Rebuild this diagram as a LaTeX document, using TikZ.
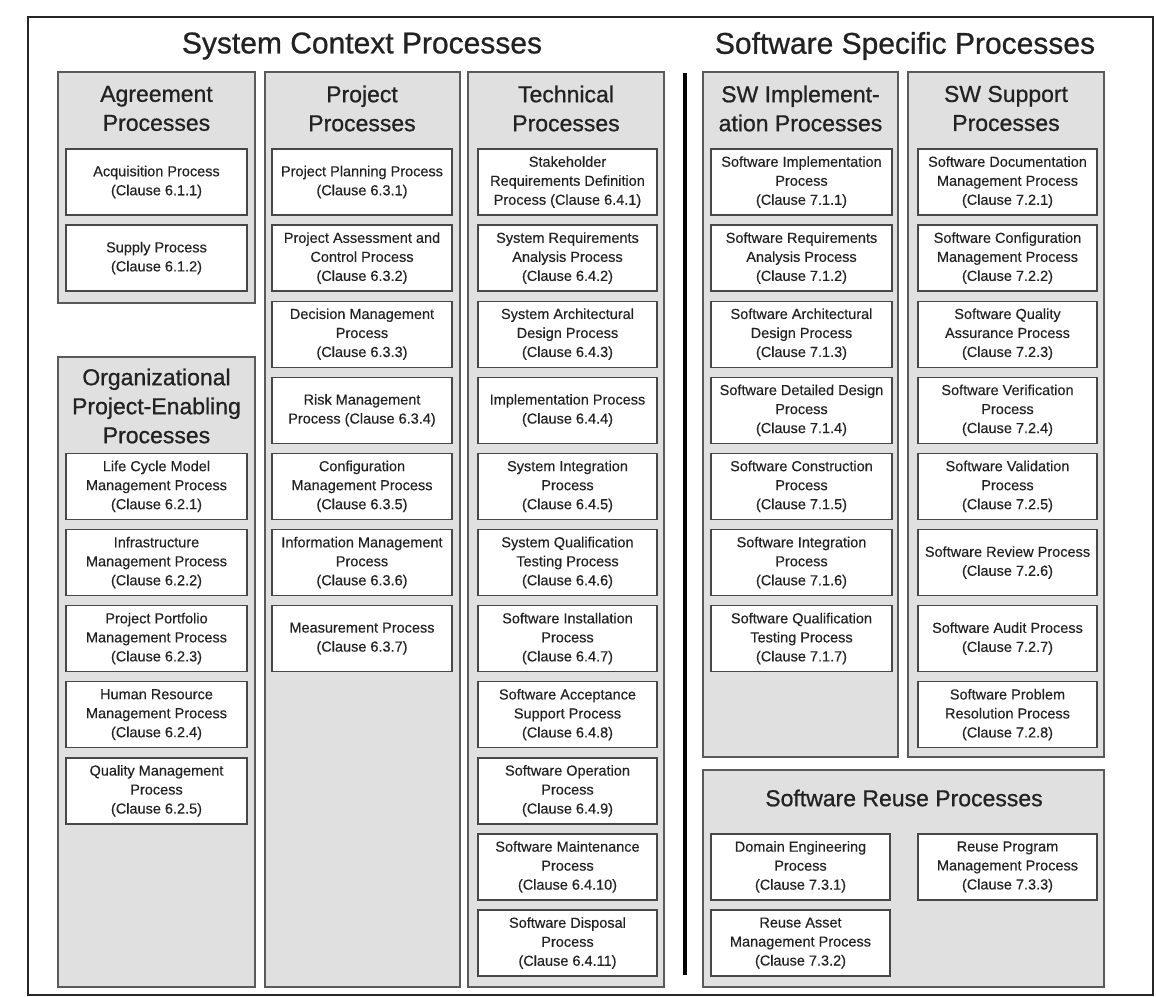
\documentclass[tikz,border=0pt]{standalone}
\usepackage{fontspec}
\setmainfont{Liberation Sans}
\newfontfamily\headfont{Liberation Sans}[FakeBold=0.8]
\newfontfamily\boxfont{Liberation Sans}[FakeBold=0.3]
\definecolor{panelfill}{HTML}{E0E0E0}
\definecolor{panelline}{HTML}{5A5A5A}
\definecolor{boxline}{HTML}{474747}
\definecolor{txt}{HTML}{222222}
\tikzset{
  panel/.style={draw=panelline, fill=panelfill, line width=1.5pt},
  procbox/.style={draw=boxline, fill=white, line width=1.4pt, align=center, inner sep=0pt,
    minimum height=66pt, font=\boxfont\fontsize{14.5}{19}\selectfont, text=txt},
  wA/.style={procbox, minimum width=181pt},
  wP/.style={procbox, minimum width=180pt},
  wT/.style={procbox, minimum width=179pt},
  headtxt/.style={align=center, inner sep=0pt, font=\headfont\fontsize{23}{29}\selectfont, text=txt},
  titletxt/.style={inner sep=0pt, font=\headfont\fontsize{30}{36}\selectfont, text=txt},
}
\begin{document}
\begin{tikzpicture}[x=1pt, y=-1pt]
\useasboundingbox (0,0) rectangle (1156,996);
\fill[white] (0,0) rectangle (1156,996);
% outer frame
\draw[line width=2.2pt, black!85] (28,17) rectangle (1153,995);
% main titles
\node[titletxt] (ctxtitle) at (362,46) {System Context Processes};
\node[titletxt] (swtitle) at (905,46) {Software Specific Processes};
% panels
\draw[panel] (58,72) rectangle (255,303);
\draw[panel] (58,357) rectangle (255,987);
\draw[panel] (265,72) rectangle (460,987);
\draw[panel] (468,72) rectangle (664,987);
\draw[panel] (703,72) rectangle (898,757);
\draw[panel] (908,72) rectangle (1104,757);
\draw[panel] (703,770) rectangle (1104,987);
% divider
\coordinate (divtop) at (685,73);
\coordinate (divbot) at (685,975);
\draw[line width=3.5pt, black] (divtop) -- (divbot);
% panel headers
\node[headtxt] (hagr) at (156.5,108.5) {Agreement\\Processes};
\node[headtxt] (hproj) at (362,108.5) {Project\\Processes};
\node[headtxt] (htech) at (566,108.5) {Technical\\Processes};
\node[headtxt] (himpl) at (800.5,108.5) {SW Implement-\\ation Processes};
\node[headtxt] (hsup) at (1006,108.5) {SW Support\\Processes};
\node[headtxt] (horg) at (156.5,406) {Organizational\\Project-Enabling\\Processes};
\node[headtxt] (hreuse) at (904,798) {Software Reuse Processes};
% Agreement
\node[wA] (a1) at (156.5,182) {Acquisition Process\\(Clause 6.1.1)};
\node[wA] (a2) at (156.5,258.1) {Supply Process\\(Clause 6.1.2)};
% Organizational
\node[wA] (o1) at (156.5,486.4) {Life Cycle Model\\Management Process\\(Clause 6.2.1)};
\node[wA] (o2) at (156.5,562.5) {Infrastructure\\Management Process\\(Clause 6.2.2)};
\node[wA] (o3) at (156.5,638.6) {Project Portfolio\\Management Process\\(Clause 6.2.3)};
\node[wA] (o4) at (156.5,714.7) {Human Resource\\Management Process\\(Clause 6.2.4)};
\node[wA] (o5) at (156.5,790.8) {Quality Management\\Process\\(Clause 6.2.5)};
% Project
\node[wP] (p1) at (362,182) {Project Planning Process\\(Clause 6.3.1)};
\node[wP] (p2) at (362,258.1) {Project Assessment and\\Control Process\\(Clause 6.3.2)};
\node[wP] (p3) at (362,334.2) {Decision Management\\Process\\(Clause 6.3.3)};
\node[wP] (p4) at (362,410.3) {Risk Management\\Process (Clause 6.3.4)};
\node[wP] (p5) at (362,486.4) {Configuration\\Management Process\\(Clause 6.3.5)};
\node[wP] (p6) at (362,562.5) {Information Management\\Process\\(Clause 6.3.6)};
\node[wP] (p7) at (362,638.6) {Measurement Process\\(Clause 6.3.7)};
% Technical
\node[wT] (t1) at (567.5,182) {Stakeholder\\Requirements Definition\\Process (Clause 6.4.1)};
\node[wT] (t2) at (567.5,258.1) {System Requirements\\Analysis Process\\(Clause 6.4.2)};
\node[wT] (t3) at (567.5,334.2) {System Architectural\\Design Process\\(Clause 6.4.3)};
\node[wT] (t4) at (567.5,410.3) {Implementation Process\\(Clause 6.4.4)};
\node[wT] (t5) at (567.5,486.4) {System Integration\\Process\\(Clause 6.4.5)};
\node[wT] (t6) at (567.5,562.5) {System Qualification\\Testing Process\\(Clause 6.4.6)};
\node[wT] (t7) at (567.5,638.6) {Software Installation\\Process\\(Clause 6.4.7)};
\node[wT] (t8) at (567.5,714.7) {Software Acceptance\\Support Process\\(Clause 6.4.8)};
\node[wT] (t9) at (567.5,790.8) {Software Operation\\Process\\(Clause 6.4.9)};
\node[wT] (t10) at (567.5,866.9) {Software Maintenance\\Process\\(Clause 6.4.10)};
\node[wT] (t11) at (567.5,943) {Software Disposal\\Process\\(Clause 6.4.11)};
% SW Implementation
\node[wA] (i1) at (801.5,182) {Software Implementation\\Process\\(Clause 7.1.1)};
\node[wA] (i2) at (801.5,258.1) {Software Requirements\\Analysis Process\\(Clause 7.1.2)};
\node[wA] (i3) at (801.5,334.2) {Software Architectural\\Design Process\\(Clause 7.1.3)};
\node[wA] (i4) at (801.5,410.3) {Software Detailed Design\\Process\\(Clause 7.1.4)};
\node[wA] (i5) at (801.5,486.4) {Software Construction\\Process\\(Clause 7.1.5)};
\node[wA] (i6) at (801.5,562.5) {Software Integration\\Process\\(Clause 7.1.6)};
\node[wA] (i7) at (801.5,638.6) {Software Qualification\\Testing Process\\(Clause 7.1.7)};
% SW Support
\node[wT] (s1) at (1007.5,182) {Software Documentation\\Management Process\\(Clause 7.2.1)};
\node[wT] (s2) at (1007.5,258.1) {Software Configuration\\Management Process\\(Clause 7.2.2)};
\node[wT] (s3) at (1007.5,334.2) {Software Quality\\Assurance Process\\(Clause 7.2.3)};
\node[wT] (s4) at (1007.5,410.3) {Software Verification\\Process\\(Clause 7.2.4)};
\node[wT] (s5) at (1007.5,486.4) {Software Validation\\Process\\(Clause 7.2.5)};
\node[wT] (s6) at (1007.5,562.5) {Software Review Process\\(Clause 7.2.6)};
\node[wT] (s7) at (1007.5,638.6) {Software Audit Process\\(Clause 7.2.7)};
\node[wT] (s8) at (1007.5,714.7) {Software Problem\\Resolution Process\\(Clause 7.2.8)};
% Reuse
\node[wT] (r1) at (800.5,866.9) {Domain Engineering\\Process\\(Clause 7.3.1)};
\node[wT] (r2) at (800.5,943) {Reuse Asset\\Management Process\\(Clause 7.3.2)};
\node[wT] (r3) at (1007.5,866.9) {Reuse Program\\Management Process\\(Clause 7.3.3)};
\end{tikzpicture}
\end{document}
